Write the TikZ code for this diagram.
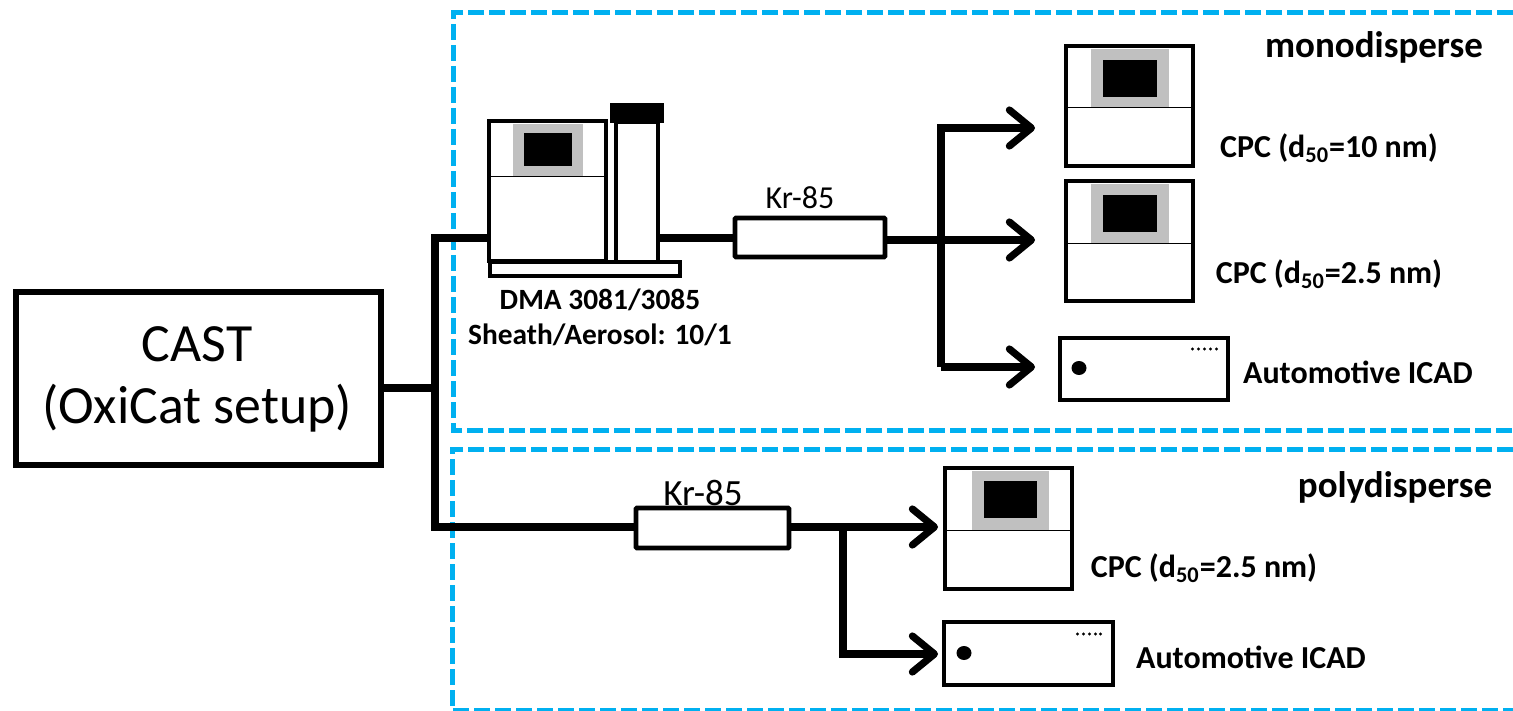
\documentclass[tikz,border=0pt]{standalone}
\usepackage{fontspec}
\setmainfont{Carlito}
\usetikzlibrary{arrows.meta}
\tikzset{
  pxbox/.style 2 args={draw=black,fill=white,inner sep=0pt,outer sep=0pt,anchor=north west,minimum width=#1*0.5pt,minimum height=#2*0.5pt},
  thick box/.style={line width=2.7pt},
  med box/.style={line width=1.7pt},
  kr box/.style={line width=2.4pt,rounded corners=0.5pt},
  grayp/.style 2 args={fill=panelgray,draw=none,inner sep=0pt,outer sep=0pt,anchor=north west,minimum width=#1*0.5pt,minimum height=#2*0.5pt},
  blackp/.style 2 args={fill=black,draw=none,inner sep=0pt,outer sep=0pt,anchor=north west,minimum width=#1*0.5pt,minimum height=#2*0.5pt},
  pipe/.style={line width=3.6pt,line join=miter},
  flow/.style={line width=3.6pt,-{Straight Barb[length=11pt,width=18pt,line width=3.6pt,round]}},
  zone/.style={draw=zoneblue,line width=2.5pt,dash pattern=on 8pt off 2.5pt},
  divider/.style={line width=0.5pt,black},
  lab/.style={font=\fontsize{16}{18}\selectfont\bfseries,inner sep=0pt},
  dmal/.style={font=\fontsize{14.7}{18}\selectfont\bfseries,inner sep=0pt},
  zonelab/.style={font=\fontsize{18.5}{20}\selectfont\bfseries,inner sep=0pt},
  krlab/.style={font=\fontsize{16}{18}\selectfont,inner sep=0pt},
  castlab/.style={font=\fontsize{26.9}{31}\selectfont,inner sep=0pt,align=center},
}
\definecolor{zoneblue}{RGB}{0,176,240}
\definecolor{panelgray}{RGB}{192,192,192}
\begin{document}
\begin{tikzpicture}[x=0.5pt,y=-0.5pt]
\useasboundingbox (0,0) rectangle (1513,711);
% zones
\draw[zone] (1513,13) -- (453,13) -- (453,430) -- (1513,430);
\draw[zone] (1513,449) -- (452,449) -- (452,710) -- (1513,710);
% CAST
\node[pxbox={365}{173},thick box] (cast) at (16,292) {};
\node[castlab] (castt) at (197,379) {CAST\\(OxiCat setup)};
% DMA
\node[pxbox={117}{140},med box] (dma) at (489,121) {};
\node[grayp={70}{53}] (dmag) at (513,124) {};
\node[blackp={48}{33}] (dmab) at (524,133) {};
\coordinate (dmadl) at (489,177); \coordinate (dmadr) at (606,177);
\draw[divider] (dmadl) -- (dmadr);
\node[pxbox={42}{140},med box] (col) at (616,122) {};
\node[blackp={54}{20}] (colcap) at (610,103) {};
\node[pxbox={190}{14},med box] (base) at (490,262) {};
\node[dmal] (dmalab) at (600,335) {Sheath/Aerosol: 10/1};
\node[dmal] (dmalab2) at (600,300) {DMA 3081/3085};
% top Kr
\node[pxbox={150}{39},kr box] (kr1) at (735,218) {};
\node[krlab] (kr1l) at (800,198) {Kr-85};
% CPCs
\node[pxbox={127}{120},med box] (cpc1) at (1066,46) {};
\node[grayp={78}{59}] (cpc1g) at (1091,49) {};
\node[blackp={54}{37}] (cpc1b) at (1103,60) {};
\coordinate (c1l) at (1066,108); \coordinate (c1r) at (1193,108);
\draw[divider] (c1l) -- (c1r);
\node[pxbox={127}{120},med box] (cpc2) at (1066,181) {};
\node[grayp={78}{59}] (cpc2g) at (1091,184) {};
\node[blackp={54}{37}] (cpc2b) at (1103,195) {};
\coordinate (c2l) at (1066,243); \coordinate (c2r) at (1193,243);
\draw[divider] (c2l) -- (c2r);
\node[pxbox={127}{121},med box] (cpc3) at (945,468) {};
\node[grayp={77}{59}] (cpc3g) at (972,471) {};
\node[blackp={53}{37}] (cpc3b) at (984,481) {};
\coordinate (c3l) at (945,530); \coordinate (c3r) at (1072,530);
\draw[divider] (c3l) -- (c3r);
% ICADs
\node[pxbox={168}{62},med box] (icad1) at (1060,338) {};
\fill (1079,368) ellipse [x radius=7.5,y radius=7];
\foreach \x in {1192.5,1198.5,1204.5,1210.5,1216.5} \fill (\x,349) circle (1.7);
\node[pxbox={169}{63},med box] (icad2) at (944,622) {};
\fill (964,653) ellipse [x radius=7.5,y radius=7];
\foreach \x in {1077.5,1083.5,1089.5,1095.5,1100.5} \fill (\x,634) circle (1.7);
% bottom Kr
\node[pxbox={153}{40},kr box] (kr2) at (636,508) {};
\node[krlab,font=\fontsize{18.5}{20}\selectfont] (kr2l) at (703,493) {Kr-85};
% labels
\node[zonelab] (mono) at (1374,47) {monodisperse};
\node[zonelab] (poly) at (1395,487) {polydisperse};
\node[lab] (l1) at (1329,148) {CPC (d\textsubscript{50}=10 nm)};
\node[lab] (l2) at (1329,274) {CPC (d\textsubscript{50}=2.5 nm)};
\node[lab] (l3) at (1358,372) {Automotive ICAD};
\node[lab] (l4) at (1204,568) {CPC (d\textsubscript{50}=2.5 nm)};
\node[lab] (l5) at (1251,657) {Automotive ICAD};
% connectors
\coordinate (j0) at (435,388);
\coordinate (jt) at (435,238);
\coordinate (jb) at (435,527);
\coordinate (a1) at (1035,128);
\coordinate (a2) at (1035,240);
\coordinate (a3) at (1035,367);
\coordinate (b0) at (941,128);
\coordinate (b1) at (941,240);
\coordinate (b2) at (941,367);
\coordinate (d0) at (843,527);
\coordinate (d1) at (843,654);
\coordinate (e1) at (938,527);
\coordinate (e2) at (938,654);
\draw[pipe] (j0 -| cast.east) -- (j0);
\draw[pipe] (dma.west |- jt) -- (jt) -- (jb) -- (kr2.west |- jb);
\coordinate (dmaout) at (660,238);
\draw[pipe] (dmaout) -- (kr1.west |- dmaout);
\draw[flow] (kr1.east |- a2) -- (a2);
\draw[flow] (b2) -- (b1) -- (b0) -- (a1);
\draw[flow] (b2) -- (a3);
\draw[flow] (kr2.east |- e1) -- (e1);
\draw[flow] (d0) -- (d1) -- (e2);
\end{tikzpicture}
\end{document}
